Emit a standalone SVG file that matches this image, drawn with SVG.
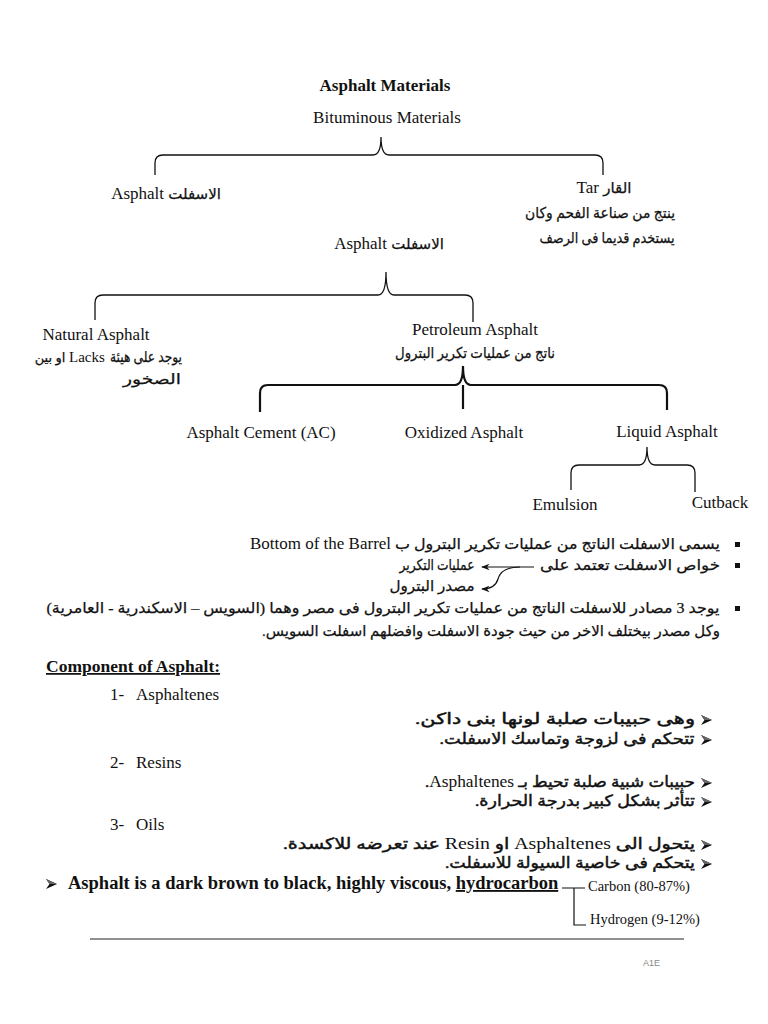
<svg xmlns="http://www.w3.org/2000/svg" width="768" height="1024" viewBox="0 0 768 1024">
<style>
.en{font-family:"Liberation Serif","DejaVu Sans",serif;font-size:17px;fill:#111;stroke:none}
.b{font-weight:bold}
.ar{font-family:"Liberation Serif","DejaVu Sans",sans-serif;font-size:15px;fill:#111;stroke:#111;stroke-width:0.25}
.arb{font-family:"Liberation Serif","DejaVu Sans",sans-serif;font-size:15.5px;fill:#111;stroke:#111;stroke-width:0.45}
.sm{font-family:"Liberation Serif",serif;font-size:14.5px;fill:#111}
.br{fill:none;stroke:#111;stroke-width:1.3}
.br2{fill:none;stroke:#111;stroke-width:2.2}
.ln{fill:none;stroke:#111;stroke-width:1.2}
.sq{fill:#111}
</style>
<defs>
<marker id="ah" viewBox="0 0 10 10" refX="9" refY="5" markerWidth="7" markerHeight="7" orient="auto"><path d="M0,1 L10,5 L0,9 L3,5 z" fill="#111"/></marker>
<g id="chev"><path d="M0,0 L11,5 L0,10 L3.5,5 z" fill="#111"/><path d="M0,0 L11,5 L3.5,5 z" fill="#666"/></g>
</defs>
<rect width="768" height="1024" fill="#fff"/>

<g id="title"><text class="en b" x="385" y="91" text-anchor="middle">Asphalt Materials</text></g>
<g id="bituminous"><text class="en" x="387" y="123" text-anchor="middle">Bituminous Materials</text></g>
<g id="asphalt1"><text class="en" x="166" y="199" text-anchor="middle">Asphalt <tspan class="ar">الاسفلت</tspan></text></g>
<g id="tar">
<text class="en" x="604" y="193" text-anchor="middle">Tar <tspan class="ar">القار</tspan></text>
<text class="ar" x="600" y="218" text-anchor="middle" direction="rtl" textLength="150" lengthAdjust="spacingAndGlyphs">ينتج من صناعة الفحم وكان</text>
<text class="ar" x="607" y="243" text-anchor="middle" direction="rtl" textLength="135" lengthAdjust="spacingAndGlyphs">يستخدم قديما فى الرصف</text>
</g>
<g id="asphalt2"><text class="en" x="389" y="249" text-anchor="middle">Asphalt <tspan class="ar">الاسفلت</tspan></text></g>
<g id="natural">
<text class="en" x="96" y="340" text-anchor="middle">Natural Asphalt</text>
<text class="ar" x="146" y="362" text-anchor="middle" direction="rtl" textLength="72" lengthAdjust="spacingAndGlyphs">يوجد على هيئة</text>
<text class="en" x="69" y="362" style="font-size:15px">Lacks</text>
<text class="ar" x="50" y="362" text-anchor="middle" direction="rtl" style="font-size:13px">او بين</text>
<text class="ar" x="152" y="384" text-anchor="middle" direction="rtl" textLength="58" lengthAdjust="spacingAndGlyphs">الصخور</text>
</g>
<g id="petroleum">
<text class="en" x="475" y="335" text-anchor="middle">Petroleum Asphalt</text>
<text class="ar" x="475" y="358" text-anchor="middle" direction="rtl" textLength="160" lengthAdjust="spacingAndGlyphs">ناتج من عمليات تكرير البترول</text>
</g>
<g id="cement"><text class="en" x="261" y="438" text-anchor="middle">Asphalt Cement (AC)</text></g>
<g id="oxidized"><text class="en" x="464" y="438" text-anchor="middle">Oxidized Asphalt</text></g>
<g id="liquid"><text class="en" x="667" y="437" text-anchor="middle">Liquid Asphalt</text></g>
<g id="emulsion"><text class="en" x="565" y="510" text-anchor="middle">Emulsion</text></g>
<g id="cutback"><text class="en" x="720" y="508" text-anchor="middle">Cutback</text></g>

<g id="connectors">
<path class="br" d="M155,175 L155,163 Q155,155 163,155 L373,155 Q381,155 381,137 Q381,155 389,155 L595,155 Q603,155 603,163 L603,175"/>
<path class="br" d="M95,320 L95,303 Q95,295 103,295 L378,295 Q386,295 386,272 Q386,295 394,295 L465,295 Q473,295 473,303 L473,322"/>
<path class="br2" d="M260,412 L260,393 Q260,385 268,385 L455,385 Q463,385 463,366 Q463,385 471,385 L659,385 Q667,385 667,393 L667,410"/>
<path class="br2" d="M463,385 L463,409"/>
<path class="br" d="M571,490 L571,473 Q571,465 579,465 L639,465 Q647,465 647,447 Q647,465 655,465 L687,465 Q695,465 695,473 L695,492"/>
<path class="ln" d="M534,567 L482,567" marker-end="url(#ah)"/>
<path class="ln" d="M520,567 C505,567 500,572 498,579 C496,586 490,589 482,589" marker-end="url(#ah)"/>
<path class="ln" d="M562,888 L585,888 M574,888 L574,925 L586,925"/>
</g>

<g id="bullets">
<rect class="sq" x="735" y="542" width="5" height="5"/>
<rect class="sq" x="735" y="563" width="5" height="5"/>
<rect class="sq" x="735" y="606" width="5" height="5"/>
<text class="ar" x="485" y="549" text-anchor="middle" direction="rtl" textLength="470" lengthAdjust="spacingAndGlyphs">يسمى الاسفلت الناتج من عمليات تكرير البترول ب <tspan class="en" style="font-size:16px">Bottom of the Barrel</tspan></text>
<text class="ar" x="630" y="570" text-anchor="middle" direction="rtl" textLength="180" lengthAdjust="spacingAndGlyphs">خواص الاسفلت تعتمد على</text>
<text class="ar" x="437" y="570" text-anchor="middle" direction="rtl" textLength="75" lengthAdjust="spacingAndGlyphs">عمليات التكرير</text>
<text class="ar" x="432" y="591" text-anchor="middle" direction="rtl" textLength="85" lengthAdjust="spacingAndGlyphs">مصدر البترول</text>
<text class="ar" x="383" y="613" text-anchor="middle" direction="rtl" textLength="673" lengthAdjust="spacingAndGlyphs">يوجد 3 مصادر للاسفلت الناتج من عمليات تكرير البترول فى مصر وهما (السويس – الاسكندرية - العامرية)</text>
<text class="ar" x="491" y="636" text-anchor="middle" direction="rtl" textLength="458" lengthAdjust="spacingAndGlyphs">وكل مصدر بيختلف الاخر من حيث جودة الاسفلت وافضلهم اسفلت السويس.</text>
</g>

<g id="components">
<text class="en b" x="46" y="672" style="font-size:17.5px" text-decoration="underline">Component of Asphalt:</text>
<text class="en" x="110" y="700">1-</text><text class="en" x="136" y="700">Asphaltenes</text>
<use href="#chev" x="701" y="715"/>
<text class="arb" x="555" y="724" text-anchor="middle" direction="rtl" textLength="280" lengthAdjust="spacingAndGlyphs">وهى حبيبات صلبة لونها بنى داكن.</text>
<use href="#chev" x="701" y="735"/>
<text class="arb" x="567" y="744" text-anchor="middle" direction="rtl" textLength="255" lengthAdjust="spacingAndGlyphs">تتحكم فى لزوجة وتماسك الاسفلت.</text>
<text class="en" x="110" y="768">2-</text><text class="en" x="136" y="768">Resins</text>
<use href="#chev" x="701" y="778"/>
<text class="arb" x="560" y="787" text-anchor="middle" direction="rtl" textLength="270" lengthAdjust="spacingAndGlyphs">حبيبات شبية صلبة تحيط بـ <tspan class="en" style="font-size:16px">Asphaltenes</tspan>.</text>
<use href="#chev" x="701" y="797"/>
<text class="arb" x="585" y="806" text-anchor="middle" direction="rtl" textLength="220" lengthAdjust="spacingAndGlyphs">تتأثر بشكل كبير بدرجة الحرارة.</text>
<text class="en" x="110" y="830">3-</text><text class="en" x="136" y="830">Oils</text>
<use href="#chev" x="701" y="840"/>
<text class="arb" x="489" y="849" text-anchor="middle" direction="rtl" textLength="412" lengthAdjust="spacingAndGlyphs">يتحول الى <tspan class="en" style="font-size:16px">Asphaltenes</tspan> او <tspan class="en" style="font-size:16px">Resin</tspan> عند تعرضه للاكسدة.</text>
<use href="#chev" x="701" y="859"/>
<text class="arb" x="570" y="868" text-anchor="middle" direction="rtl" textLength="250" lengthAdjust="spacingAndGlyphs">يتحكم فى خاصية السيولة للاسفلت.</text>
</g>

<g id="hydrocarbon">
<use href="#chev" x="46" y="879"/>
<text class="en b" x="68" y="889" style="font-size:18.5px">Asphalt is a dark brown to black, highly viscous, <tspan text-decoration="underline">hydrocarbon</tspan></text>
</g>
<g id="carbon"><text class="sm" x="588" y="891">Carbon (80-87%)</text></g>
<g id="hydrogen"><text class="sm" x="590" y="924">Hydrogen (9-12%)</text></g>

<line x1="90" y1="939" x2="684" y2="939" stroke="#222" stroke-width="1"/>
<text x="643" y="966" style="font-family:'Liberation Sans',sans-serif;font-size:9px;fill:#888">A1E</text>
</svg>
